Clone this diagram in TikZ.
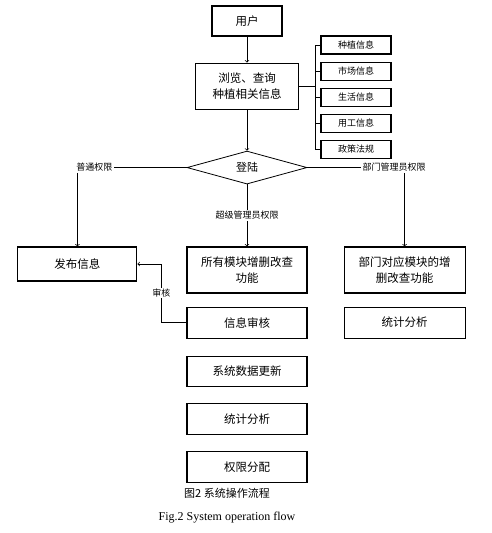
\documentclass[tikz,border=0pt]{standalone}
\usepackage{fontspec}
\setmainfont{Liberation Serif}
\newfontfamily\cjk{Noto Sans CJK SC}
\usepackage{tikz}
\usetikzlibrary{arrows,shapes,positioning}
\tikzstyle{arrow} = [line width=0.7pt,->,>=to]
\tikzstyle{link} = [line width=0.7pt]
\tikzstyle{boldlink} = [line width=1.6pt]
\tikzstyle{boxnode} = [rectangle, draw, line width=1.1pt, minimum width=120pt, minimum height=31pt, align=center, text centered, font=\cjk\fontsize{11.5}{16}\selectfont]
\tikzstyle{sidebox} = [rectangle, draw, line width=1.1pt, minimum width=70pt, minimum height=18pt, font=\cjk\fontsize{9}{11}\selectfont]
\tikzstyle{lbl} = [fill=white, inner sep=1pt, font=\cjk\fontsize{9}{11}\selectfont]

\begin{document}
\begin{tikzpicture}[x=1pt, y=-1pt, node distance=16pt]
\useasboundingbox (0,0) rectangle (492,533);
\node[boxnode, minimum width=70pt, minimum height=30pt] (user) at (247,21) {用户};
\node[boxnode, minimum width=103pt, minimum height=46pt, below=26pt of user] (browse) {浏览、查询\\种植相关信息};
\node[diamond, draw, line width=0.8pt, aspect=3.6, inner sep=0pt, minimum width=120pt, minimum height=33pt, below=41pt of browse, font=\cjk\fontsize{11}{13}\selectfont] (login) {登陆};

\node[sidebox] (s1) at (356,45) {种植信息};
\node[sidebox, below=7pt of s1] (s2) {市场信息};
\node[sidebox, below=7pt of s2] (s3) {生活信息};
\node[sidebox, below=7pt of s3] (s4) {用工信息};
\node[sidebox, below=7pt of s4] (s5) {政策法规};

\node[boxnode, minimum height=46pt, below=62pt of login] (allmod) {所有模块增删改查\\功能};
\node[boxnode, below=13pt of allmod] (review) {信息审核};
\node[boxnode, minimum height=30pt, below=17pt of review] (sysdata) {系统数据更新};
\node[boxnode, below=16pt of sysdata] (stat) {统计分析};
\node[boxnode, below=16pt of stat] (perm) {权限分配};

\node[boxnode, minimum width=119pt, minimum height=34pt, left=49pt of allmod.north west, anchor=north east] (pub) {发布信息};
\node[boxnode, minimum width=121pt, minimum height=46pt, right=36pt of allmod] (deptmod) {部门对应模块的增\\删改查功能};
\node[boxnode, minimum width=121pt, below=13pt of deptmod] (deptstat) {统计分析};

\node[lbl, left=73pt of login] (normal) {普通权限};
\node[lbl, right=54pt of login] (dept) {部门管理员权限};

\draw[arrow] (user) -- (browse);
\draw[arrow] (browse) -- (login);
\draw[link] (browse.east) -- ++(16,0) coordinate (brk);
\draw[link] (brk |- s1.west) -- (brk |- s5.west);
\foreach \s in {s1,s2,s3,s4,s5}
  \draw[link] (brk |- \s.west) -- (\s.west);

\draw[boldlink] (login.west) -- (normal.east);
\draw[arrow] (normal.south -| pub.north) -- (pub.north);
\draw[boldlink] (login.east) -- (dept.west);
\draw[arrow] (dept.south -| deptmod.north) -- (deptmod.north);
\draw[arrow] (login.south) -- node[lbl, midway] (super) {超级管理员权限} (allmod.north);
\draw[arrow] (review.west) -- ++(-25,0) |- node[lbl, pos=0.25] (audit) {审核} (pub.east);

\node[font=\cjk\fontsize{11}{13}\selectfont] (cap) at (227,493) {图2 系统操作流程};
\node[font=\fontsize{12}{14}\selectfont, below=7pt of cap] (capen) {Fig.2 System operation flow};
\end{tikzpicture}
\end{document}
